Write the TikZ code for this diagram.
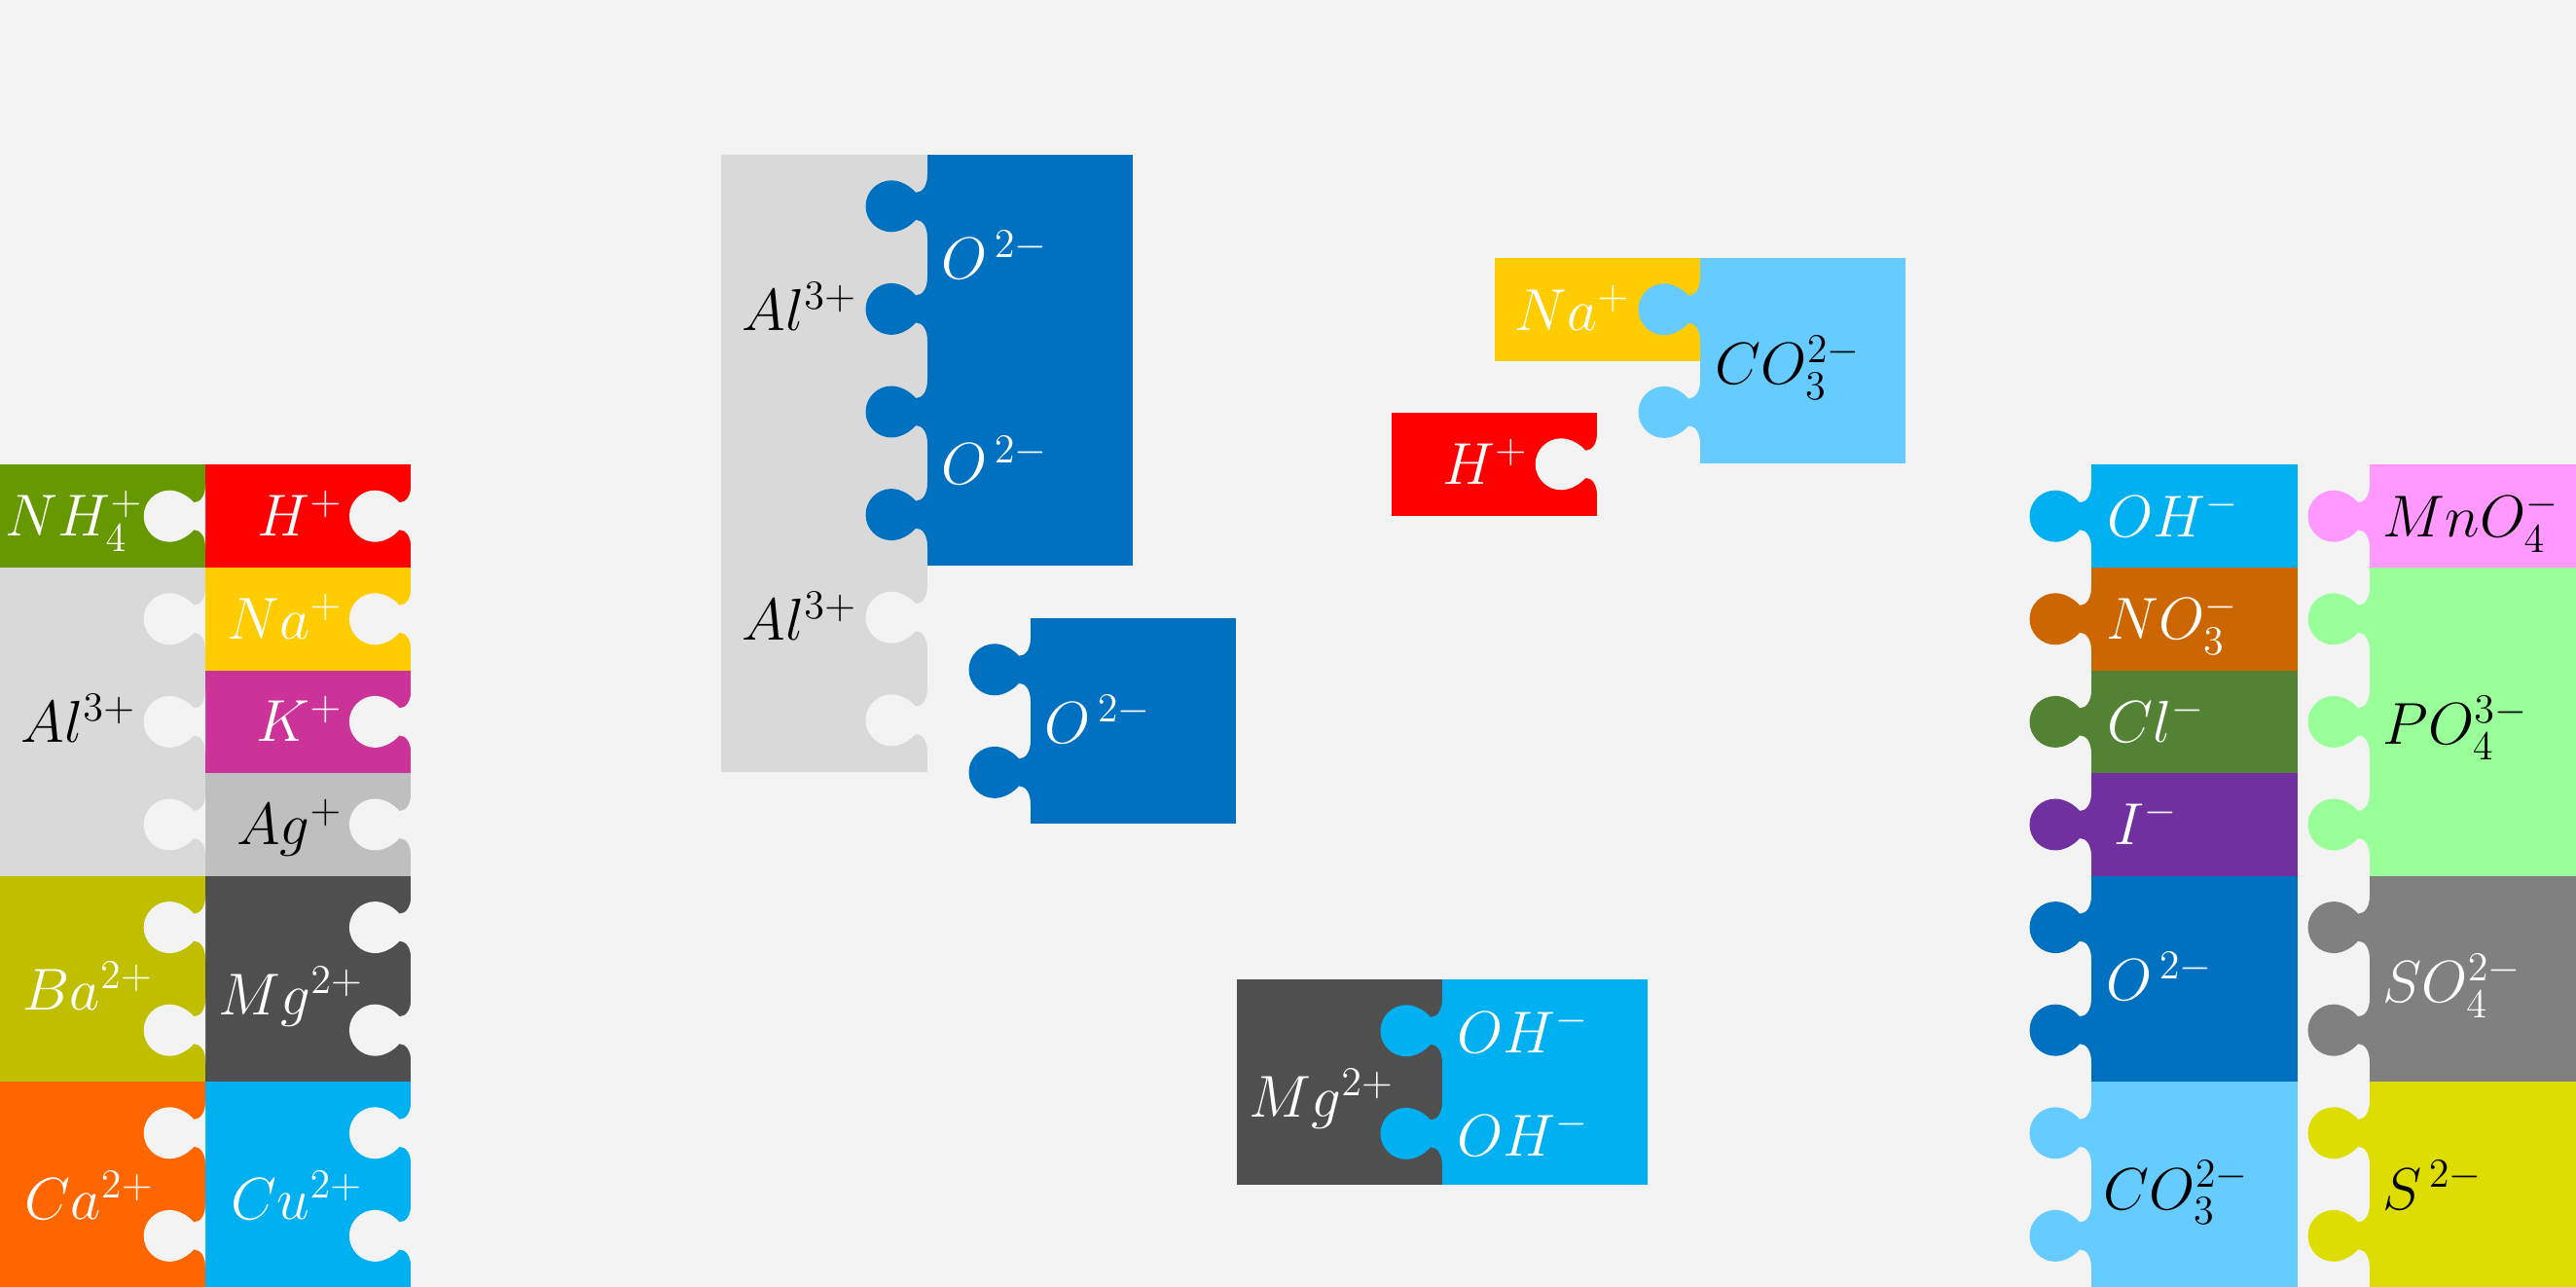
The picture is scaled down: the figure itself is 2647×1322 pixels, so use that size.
\documentclass[tikz,border=0pt]{standalone}
\definecolor{bgc}{HTML}{F3F3F3}
\definecolor{cNH}{HTML}{669900}
\definecolor{cH}{HTML}{FF0000}
\definecolor{cNa}{HTML}{FFCC00}
\definecolor{cK}{HTML}{CC3399}
\definecolor{cAg}{HTML}{BFBFBF}
\definecolor{cAl}{HTML}{D9D9D9}
\definecolor{cBa}{HTML}{BFBF00}
\definecolor{cMg}{HTML}{4F4F4F}
\definecolor{cCa}{HTML}{FF6600}
\definecolor{cCu}{HTML}{00B0F0}
\definecolor{cO}{HTML}{0070C0}
\definecolor{cCO}{HTML}{66CCFF}
\definecolor{cOH}{HTML}{00B0F0}
\definecolor{cNO}{HTML}{CC6600}
\definecolor{cCl}{HTML}{548235}
\definecolor{cI}{HTML}{7030A0}
\definecolor{cMn}{HTML}{FF99FF}
\definecolor{cPO}{HTML}{99FF99}
\definecolor{cSO}{HTML}{808080}
\definecolor{cS}{HTML}{DDDD00}
\tikzset{
  lbl/.style={inner sep=0pt, font=\fontsize{17.28}{20}\selectfont},
  wt/.style={lbl, text=white},
  bk/.style={lbl, text=black},
  hole/.pic={\fill[pic actions] (0,-33) .. controls (0,-21) and (-5,-14) .. (-12,-14)
      .. controls (-17,-20) and (-27,-26.5) .. (-37,-26.5)
      .. controls (-51.6,-26.5) and (-63.5,-14.6) .. (-63.5,0)
      .. controls (-63.5,14.6) and (-51.6,26.5) .. (-37,26.5)
      .. controls (-27,26.5) and (-17,20) .. (-12,14)
      .. controls (-5,14) and (0,21) .. (0,33) -- cycle;},
  knob/.pic={\fill[pic actions] (1.5,-33) -- (0,-33) .. controls (0,-21) and (-5,-14) .. (-12,-14)
      .. controls (-17,-20) and (-27,-26.5) .. (-37,-26.5)
      .. controls (-51.6,-26.5) and (-63.5,-14.6) .. (-63.5,0)
      .. controls (-63.5,14.6) and (-51.6,26.5) .. (-37,26.5)
      .. controls (-27,26.5) and (-17,20) .. (-12,14)
      .. controls (-5,14) and (0,21) .. (0,33) -- (1.5,33) -- cycle;}
}
\begin{document}
\begin{tikzpicture}[x=0.01cm,y=-0.01cm]
\fill[bgc] (0,0) rectangle (2647,1322);
\useasboundingbox (0,0) rectangle (2647,1322);

% ---------- left block (cations) ----------
\fill[cNH] (0,477.4) rectangle (211.2,583);
\fill[cAl] (0,583) rectangle (211.2,899.8);
\fill[cBa] (0,899.8) rectangle (211.2,1111);
\fill[cCa] (0,1111) rectangle (211.2,1322.2);
\fill[cH]  (211.2,477.4) rectangle (422.4,583);
\fill[cNa] (211.2,583) rectangle (422.4,688.6);
\fill[cK]  (211.2,688.6) rectangle (422.4,794.2);
\fill[cAg] (211.2,794.2) rectangle (422.4,899.8);
\fill[cMg] (211.2,899.8) rectangle (422.4,1111);
\fill[cCu] (211.2,1111) rectangle (422.4,1322.2);
\foreach \y in {530.2,635.8,741.4,847,952.6,1058.2,1163.8,1269.4}{
  \pic[fill=bgc] at (211.2,\y) {hole};
  \pic[fill=bgc] at (422.4,\y) {hole};
}
\node[wt,anchor=base east] (nh4) at (148,551) {$NH_4^+$};
\node[bk,anchor=base west] (alA) at (21,763) {$Al^{3+}$};
\node[wt,anchor=base west] (ba) at (23,1038) {$Ba^{2+}$};
\node[wt,anchor=base west] (ca) at (25,1253) {$Ca^{2+}$};
\node[wt,anchor=base east] (hA) at (353,551) {$H^+$};
\node[wt,anchor=base east] (naA) at (353,657) {$Na^+$};
\node[wt,anchor=base east] (kA) at (353,762) {$K^+$};
\node[bk,anchor=base east] (agA) at (353,868) {$Ag^+$};
\node[wt,anchor=base west] (mgA) at (224,1043) {$Mg^{2+}$};
\node[wt,anchor=base west] (cuA) at (237,1253) {$Cu^{2+}$};

% ---------- Al / O group ----------
\fill[cAl] (741,159) rectangle (953,792.6);
\fill[cO] (953,159) rectangle (1164.2,581.4);
\foreach \y in {211.8,317.4,423,528.6}{\pic[fill=cO] at (953,\y) {knob};}
\foreach \y in {634.2,739.8}{\pic[fill=bgc] at (953,\y) {hole};}
\fill[cO] (1059,635) rectangle (1270.2,846.2);
\foreach \y in {687.8,793.4}{\pic[fill=cO] at (1059,\y) {knob};}
\node[bk,anchor=base west] (alB) at (762,340) {$Al^{3+}$};
\node[bk,anchor=base west] (alC) at (762,658) {$Al^{3+}$};
\node[wt,anchor=base west] (oB) at (967,287) {$O^{\,2-}$};
\node[wt,anchor=base west] (oC) at (967,498) {$O^{\,2-}$};
\node[wt,anchor=base west] (oD) at (1073,764) {$O^{\,2-}$};

% ---------- Na / CO3 / H group ----------
\fill[cNa] (1536,265) rectangle (1747,370.6);
\fill[cCO] (1747,265) rectangle (1958.2,476.2);
\foreach \y in {317.8,423.4}{\pic[fill=cCO] at (1747,\y) {knob};}
\fill[cH] (1430,424) rectangle (1641.2,529.6);
\pic[fill=bgc] at (1641.2,476.8) {hole};
\node[wt,anchor=base east] (naB) at (1676,340) {$Na^+$};
\node[bk,anchor=base west] (coB) at (1762,395) {$CO_3^{2-}$};
\node[wt,anchor=base east] (hB) at (1571,498) {$H^+$};

% ---------- Mg / OH group ----------
\fill[cMg] (1271,1006) rectangle (1482,1217.2);
\fill[cOH] (1482,1006) rectangle (1693.2,1217.2);
\foreach \y in {1058.8,1164.4}{\pic[fill=cOH] at (1482,\y) {knob};}
\node[wt,anchor=base west] (mgB) at (1283,1148) {$Mg^{2+}$};
\node[wt,anchor=base west] (ohB) at (1497,1082) {$OH^-$};
\node[wt,anchor=base west] (ohC) at (1497,1188) {$OH^-$};

% ---------- right block (anions) ----------
\fill[cOH] (2149,477.4) rectangle (2360.6,583);
\fill[cNO] (2149,583) rectangle (2360.6,688.6);
\fill[cCl] (2149,688.6) rectangle (2360.6,794.2);
\fill[cI]  (2149,794.2) rectangle (2360.6,899.8);
\fill[cO]  (2149,899.8) rectangle (2360.6,1111);
\fill[cCO] (2149,1111) rectangle (2360.6,1322.2);
\pic[fill=cOH] at (2149,530.2) {knob};
\pic[fill=cNO] at (2149,635.8) {knob};
\pic[fill=cCl] at (2149,741.4) {knob};
\pic[fill=cI]  at (2149,847) {knob};
\pic[fill=cO]  at (2149,952.6) {knob};
\pic[fill=cO]  at (2149,1058.2) {knob};
\pic[fill=cCO] at (2149,1163.8) {knob};
\pic[fill=cCO] at (2149,1269.4) {knob};
\fill[cMn] (2435,477.4) rectangle (2647,583);
\fill[cPO] (2435,583) rectangle (2647,899.8);
\fill[cSO] (2435,899.8) rectangle (2647,1111);
\fill[cS]  (2435,1111) rectangle (2647,1322.2);
\pic[fill=cMn] at (2435,530.2) {knob};
\pic[fill=cPO] at (2435,635.8) {knob};
\pic[fill=cPO] at (2435,741.4) {knob};
\pic[fill=cPO] at (2435,847) {knob};
\pic[fill=cSO] at (2435,952.6) {knob};
\pic[fill=cSO] at (2435,1058.2) {knob};
\pic[fill=cS]  at (2435,1163.8) {knob};
\pic[fill=cS]  at (2435,1269.4) {knob};
\node[wt,anchor=base west] (ohA) at (2165,552) {$OH^-$};
\node[wt,anchor=base west] (no3) at (2164,657) {$NO_3^-$};
\node[wt,anchor=base west] (cl) at (2165,763) {$Cl^-$};
\node[wt,anchor=base west] (io) at (2172,868) {$I^-$};
\node[wt,anchor=base west] (oA) at (2164,1028) {$O^{\,2-}$};
\node[bk,anchor=base west] (coA) at (2161,1242) {$CO_3^{2-}$};
\node[bk,anchor=base west] (mno4) at (2448,552) {$MnO_4^-$};
\node[bk,anchor=base west] (po4) at (2448,765) {$PO_4^{3-}$};
\node[wt,anchor=base west] (so4) at (2448,1030) {$SO_4^{2-}$};
\node[bk,anchor=base west] (s2) at (2448,1242) {$S^{\,2-}$};
\end{tikzpicture}
\end{document}
